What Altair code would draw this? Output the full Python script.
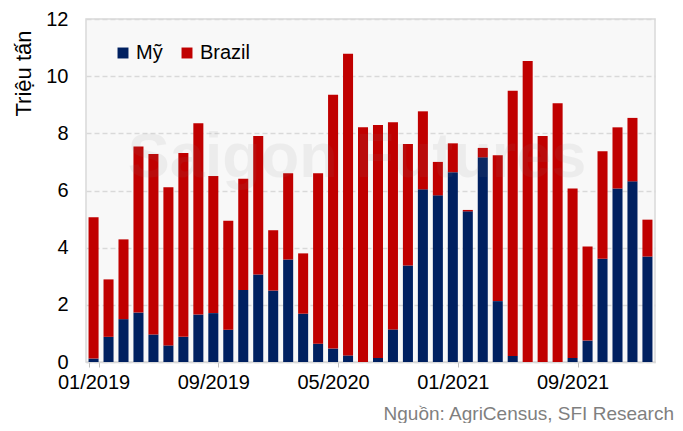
import altair as alt
import pandas as pd

months = ["01/2019", "02/2019", "03/2019", "04/2019", "05/2019", "06/2019",
          "07/2019", "08/2019", "09/2019", "10/2019", "11/2019", "12/2019",
          "01/2020", "02/2020", "03/2020", "04/2020", "05/2020", "06/2020",
          "07/2020", "08/2020", "09/2020", "10/2020", "11/2020", "12/2020",
          "01/2021", "02/2021", "03/2021", "04/2021", "05/2021", "06/2021",
          "07/2021", "08/2021", "09/2021", "10/2021", "11/2021", "12/2021",
          "01/2022", "02/2022"]

us = [0.12, 0.88, 1.50, 1.73, 0.96, 0.58, 0.88, 1.66, 1.71, 1.13, 2.52, 3.06,
      2.50, 3.59, 1.69, 0.64, 0.47, 0.23, 0.00, 0.14, 1.14, 3.38, 6.04, 5.83,
      6.64, 5.27, 7.16, 2.13, 0.21, 0.00, 0.00, 0.00, 0.14, 0.75, 3.61, 6.07,
      6.32, 3.69]

brazil = [4.94, 2.01, 2.79, 5.81, 6.32, 5.53, 6.43, 6.69, 4.80, 3.81, 3.89, 4.85,
          2.11, 3.01, 2.11, 5.96, 8.88, 10.55, 8.21, 8.15, 7.25, 4.25, 2.73, 1.17,
          1.01, 0.05, 0.33, 5.10, 9.28, 10.53, 7.91, 9.05, 5.93, 3.29, 3.76, 2.14,
          2.22, 1.29]

series_names = ["Mỹ", "Brazil"]
series_colors = ["#002060", "#C00000"]
x_label_values = ["01/2019", "09/2019", "05/2020", "01/2021", "09/2021"]
y_ticks = [0, 2, 4, 6, 8, 10, 12]

rows = []
for i, m in enumerate(months):
    rows.append({"month": m, "series": "Mỹ", "value": us[i], "ord": 0})
    rows.append({"month": m, "series": "Brazil", "value": brazil[i], "ord": 1})
df = pd.DataFrame(rows)

FONT = "Liberation Sans"

bars = alt.Chart(df).mark_bar().encode(
    x=alt.X("month:O", sort=months,
            scale=alt.Scale(paddingInner=0.33, paddingOuter=0.17),
            axis=alt.Axis(title=None, values=x_label_values, labelAngle=0,
                          labelFontSize=20, labelColor="#000000", labelFont=FONT,
                          tickBand="extent", ticks=True, tickColor="#bfbfbf",
                          tickSize=5, tickWidth=1, labelPadding=5,
                          domainColor="#d9d9d9", domainWidth=1.5)),
    y=alt.Y("value:Q", stack="zero",
            scale=alt.Scale(domain=[0, 12], nice=False),
            axis=alt.Axis(title="Triệu tấn", values=y_ticks, labelFontSize=20,
                          labelFont=FONT, labelColor="#000000",
                          ticks=False, domain=False, labelPadding=18,
                          grid=True, gridColor="#d9d9d9", gridDash=[5, 3],
                          gridWidth=1.5,
                          titleFont=FONT, titleFontSize=22, titleFontWeight="normal",
                          titleColor="#000000", titleAngle=-90,
                          titleAlign="center", titleBaseline="middle",
                          titleX=-63, titleY=54)),
    color=alt.Color("series:N",
                    scale=alt.Scale(domain=series_names, range=series_colors),
                    legend=alt.Legend(title=None, orient="none", legendX=27, legendY=24,
                                      direction="horizontal", symbolType="square",
                                      symbolSize=120, symbolStrokeWidth=0,
                                      labelFontSize=20, labelFont=FONT,
                                      labelColor="#000000", columnPadding=14,
                                      labelOffset=3, padding=0)),
    order=alt.Order("ord:Q", sort="ascending"),
)

watermark = alt.Chart(pd.DataFrame({"t": ["Saigon Futures"]})).mark_text(
    font=FONT, fontSize=63, fontWeight="bold", color="#808080", opacity=0.09,
    align="center", baseline="middle"
).encode(text="t:N", x=alt.value(271), y=alt.value(139))

source = alt.Chart(pd.DataFrame({"t": ["Nguồn: AgriCensus, SFI Research"]})).mark_text(
    font=FONT, fontSize=19, color="#7f7f7f", align="right", baseline="alphabetic"
).encode(text="t:N", x=alt.value(588), y=alt.value(401))

chart = alt.layer(bars, watermark, source).properties(
    width=569, height=343,
    autosize=alt.AutoSizeParams(type="none"),
    padding={"left": 78, "top": 11, "right": 20, "bottom": 61},
    background="#ffffff",
).configure_view(
    fill="#f8f8f8", stroke="#d9d9d9", strokeWidth=1.5
)

chart.save("out.html", embed_options={"renderer": "svg", "actions": False})
